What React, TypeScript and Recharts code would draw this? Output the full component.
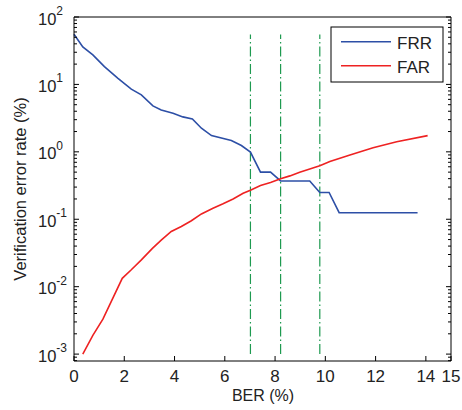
import React from "react";
import { LineChart, Line, XAxis, YAxis, ReferenceLine } from "recharts";

// BER (%) and error rates (%)
const berFRR = [0, 0.35, 0.75, 1.21, 1.75, 2.28, 2.68, 3.14, 3.47, 3.94, 4.33, 4.71, 5.07, 5.47, 6.26, 6.66, 7.02, 7.42, 7.82, 8.22, 9.38, 9.78, 10.15, 10.55, 13.67];
const frrValues = [55.6, 36, 27.4, 18.4, 12.3, 8.5, 7.0, 4.8, 4.17, 3.73, 3.3, 3.07, 2.24, 1.74, 1.47, 1.24, 0.99, 0.5, 0.5, 0.37, 0.37, 0.25, 0.25, 0.125, 0.125];

const berFAR = [0.35, 0.75, 1.15, 1.92, 2.28, 2.68, 3.12, 3.47, 3.87, 4.27, 4.67, 5.07, 5.53, 5.93, 6.33, 6.73, 7.02, 7.42, 7.82, 8.22, 8.59, 8.98, 9.38, 9.78, 10.18, 10.98, 11.9, 12.84, 14.07];
const farValues = [0.001, 0.0019, 0.0033, 0.0133, 0.0178, 0.025, 0.037, 0.049, 0.066, 0.078, 0.095, 0.12, 0.146, 0.17, 0.2, 0.243, 0.27, 0.316, 0.35, 0.4, 0.44, 0.5, 0.557, 0.62, 0.72, 0.9, 1.15, 1.41, 1.74];

// dash-dot markers
const markBER = [7.02, 8.22, 9.78];
const markRange = [0.001, 55];

const xTicks = [0, 2, 4, 6, 8, 10, 12, 14, 15];
const yExponents = [-3, -2, -1, 0, 1, 2];
const yDomain = [0.00079, 100];

const frrData = berFRR.map((x, i) => ({ x, y: frrValues[i] }));
const farData = berFAR.map((x, i) => ({ x, y: farValues[i] }));

// major + minor log ticks
const yTicks: number[] = [];
for (let e = -4; e <= 2; e++) {
  for (let m = 1; m <= 9; m++) {
    const v = m * Math.pow(10, e);
    if (v >= yDomain[0] && v <= yDomain[1] * 1.0001) yTicks.push(v);
  }
}
const expOf = (v: number) => {
  const l = Math.log10(v);
  return Math.abs(l - Math.round(l)) < 1e-6 ? Math.round(l) : null;
};

const font = "'Liberation Sans', Arial, Helvetica, sans-serif";

const LeftTick = (props: any) => {
  const { x, y, payload } = props;
  const e = expOf(payload.value);
  const major = e !== null && yExponents.includes(e);
  return (
    <g>
      <line x1={x} x2={x + (major ? 5 : 3)} y1={y} y2={y} stroke="#000" strokeWidth={1} />
      {major && (
        <text x={x - 36} y={y + 7.5} fontSize={16.5} fontFamily={font} fill="#222">
          10
          <tspan dy={-9.5} fontSize={12}>{e}</tspan>
        </text>
      )}
    </g>
  );
};

const RightTick = (props: any) => {
  const { x, y, payload } = props;
  const e = expOf(payload.value);
  const major = e !== null && yExponents.includes(e);
  return <line x1={x - (major ? 5 : 3)} x2={x} y1={y} y2={y} stroke="#000" strokeWidth={1} />;
};

const BottomTick = (props: any) => {
  const { x, y, payload } = props;
  return (
    <g>
      <line x1={x} x2={x} y1={y} y2={y - 5} stroke="#000" strokeWidth={1} />
      <text x={x} y={y + 21} textAnchor="middle" fontSize={17} fontFamily={font} fill="#222">
        {payload.value}
      </text>
    </g>
  );
};

const TopTick = (props: any) => {
  const { x, y } = props;
  return <line x1={x} x2={x} y1={y} y2={y + 5} stroke="#000" strokeWidth={1} />;
};

export default function App() {
  return (
    <div style={{ position: "absolute", left: 0, top: 0, width: 462, height: 410, background: "#fff" }}>
      <LineChart width={462} height={410} margin={{ top: 16, right: 10, bottom: 48, left: 73 }}>
        <XAxis
          dataKey="x"
          type="number"
          domain={[0, 15]}
          ticks={xTicks}
          interval={0}
          height={1}
          tickSize={0}
          tickMargin={0}
          tickLine={false}
          axisLine={{ stroke: "#000" }}
          tick={(p: any) => <BottomTick {...p} />}
        />
        <XAxis
          xAxisId="top"
          orientation="top"
          dataKey="x"
          type="number"
          domain={[0, 15]}
          ticks={xTicks}
          interval={0}
          height={1}
          tickSize={0}
          tickMargin={0}
          tickLine={false}
          axisLine={{ stroke: "#000" }}
          tick={(p: any) => <TopTick {...p} />}
        />
        <YAxis
          type="number"
          scale="log"
          domain={yDomain}
          allowDataOverflow
          ticks={yTicks}
          interval={0}
          width={1}
          tickSize={0}
          tickMargin={0}
          tickLine={false}
          axisLine={{ stroke: "#000" }}
          tick={(p: any) => <LeftTick {...p} />}
        />
        <YAxis
          yAxisId="right"
          orientation="right"
          type="number"
          scale="log"
          domain={yDomain}
          allowDataOverflow
          ticks={yTicks}
          interval={0}
          width={1}
          tickSize={0}
          tickMargin={0}
          tickLine={false}
          axisLine={{ stroke: "#000" }}
          tick={(p: any) => <RightTick {...p} />}
        />
        {markBER.map((b) => (
          <ReferenceLine
            key={b}
            segment={[
              { x: b, y: markRange[0] },
              { x: b, y: markRange[1] },
            ]}
            stroke="#1e9a50"
            strokeWidth={1.2}
            strokeDasharray="10 3 1.5 3"
          />
        ))}
        <Line
          data={frrData}
          dataKey="y"
          type="linear"
          stroke="#2d4fa6"
          strokeWidth={1.6}
          dot={false}
          isAnimationActive={false}
        />
        <Line
          data={farData}
          dataKey="y"
          type="linear"
          stroke="#ee2222"
          strokeWidth={1.6}
          dot={false}
          isAnimationActive={false}
        />
      </LineChart>
      <svg
        width={462}
        height={410}
        style={{ position: "absolute", left: 0, top: 0, pointerEvents: "none" }}
        fontFamily={font}
      >
        <text x={263} y={400.5} textAnchor="middle" fontSize={16} fill="#222">
          BER (%)
        </text>
        <text
          x={25.5}
          y={189}
          textAnchor="middle"
          fontSize={16.5}
          fill="#222"
          transform="rotate(-90 25.5 189)"
        >
          Verification error rate (%)
        </text>
        <rect x={331} y={27} width={112} height={55} fill="#fff" stroke="#000" strokeWidth={1} />
        <line x1={341} x2={391} y1={41.7} y2={41.7} stroke="#2d4fa6" strokeWidth={1.6} />
        <line x1={341} x2={391} y1={65.7} y2={65.7} stroke="#ee2222" strokeWidth={1.6} />
        <text x={397} y={48.5} fontSize={17} fill="#222">FRR</text>
        <text x={397} y={72.5} fontSize={17} fill="#222">FAR</text>
      </svg>
    </div>
  );
}
